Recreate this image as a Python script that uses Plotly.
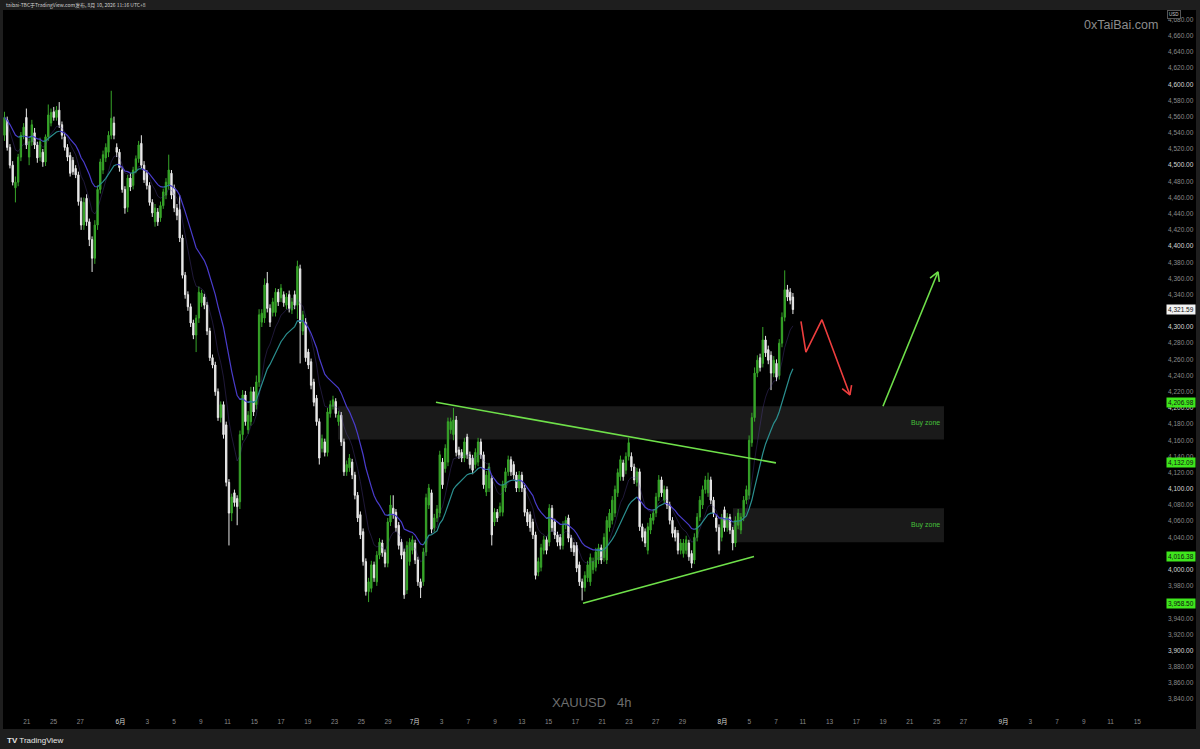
import numpy as np
import pandas as pd
import plotly.graph_objects as go

# ---------------- data ----------------
open_ = [
    4537,4556,4522,4500,4472,4479,4510,4537,4559,4510,
    4529,4540,4525,4510,4516,4504,4535,4552,4566,4559,
    4568,4550,4535,4522,4512,4506,4496,4488,4455,4426,
    4459,4430,4408,4385,4426,4470,4494,4509,4516,4537,
    4552,4522,4516,4494,4470,4448,4484,4475,4494,4508,
    4527,4500,4490,4475,4454,4430,4442,4435,4450,4463,
    4476,4490,4472,4447,4445,4410,4364,4340,4325,4305,
    4290,4311,
    4330,4337,4327,4295,4262,4253,4220,4188,4204,4179,
    4108,4070,4095,4088,4084,4167,4216,4173,4183,4220,
    4204,4232,4306,4311,4354,4323,4318,4318,4343,4336,
    4340,4327,4340,4321,4340,4327,4372,4295,4306,4269,
    4257,4232,4212,4183,4150,4158,4145,4193,4202,4208,
    4183,4191,4158,4121,4126,4133,4117,4092,4068,4047,
    4010,3973,3977,4006,3985,4018,4033,4021,4008,4059,
    4076,4071,4055,4034,
    4022,3975,4010,4024,4033,4012,3985,3985,4022,4080,
    4095,4052,4064,4070,4133,4125,4133,4173,4167,4185,
    4148,4145,4138,4164,4142,4138,4130,4133,4158,4142,
    4096,4101,4113,4059,4071,4071,4071,4101,4121,4136,
    4130,4117,4101,4117,4101,4071,4068,4059,4043,3997,
    4003,4024,4037,4034,4076,4059,4043,4040,4030,4055,
    4064,4039,4030,4030,4006,3985,3978,3990,3985,4000,
    4003,4012,4027,4015,
    4012,4052,4061,4070,4095,4115,4132,4123,4140,4140,
    4127,4108,4121,4053,4047,4024,4049,4061,4070,4090,
    4111,4086,4099,4080,4061,4049,4045,4024,4020,4024,
    4033,4020,4012,4040,4065,4080,4099,4095,4111,4086,
    4064,4052,4040,4074,4052,4065,4049,4033,4055,4049,
    4065,4086,4092,4157,4188,4243,4262,4255,4284,4272,
    4265,4243,4255,4240,4280,4312,4346,4343,4337,
]
high = [
    4566,4560,4526,4505,4486,4514,4541,4552,4570,4533,
    4556,4546,4529,4534,4520,4538,4575,4570,4572,4573,
    4578,4554,4540,4526,4516,4510,4500,4492,4460,4460,
    4464,4434,4412,4432,4475,4508,4518,4527,4542,4592,
    4560,4527,4520,4498,4474,4488,4490,4498,4512,4530,
    4537,4505,4494,4479,4458,4452,4447,4455,4471,4484,
    4513,4494,4476,4452,4463,4414,4368,4344,4329,4309,
    4315,4350,
    4346,4341,4331,4299,4266,4257,4224,4208,4208,4183,
    4112,4094,4099,4092,4172,4222,4221,4196,4226,4226,
    4240,4322,4322,4360,4368,4328,4336,4348,4347,4353,
    4344,4342,4345,4336,4345,4382,4377,4320,4311,4273,
    4261,4236,4216,4187,4167,4162,4200,4209,4215,4212,
    4196,4195,4162,4135,4143,4137,4121,4096,4072,4051,
    4014,3990,4011,4010,4023,4039,4037,4025,4064,4092,
    4092,4075,4059,4038,
    4026,4035,4039,4042,4037,4016,3989,4027,4094,4106,
    4099,4069,4080,4147,4138,4155,4188,4188,4200,4190,
    4152,4149,4163,4168,4146,4142,4150,4163,4162,4146,
    4122,4132,4117,4076,4075,4083,4110,4126,4141,4140,
    4134,4121,4122,4121,4105,4075,4072,4063,4047,4015,
    4032,4042,4041,4081,4080,4063,4047,4044,4060,4066,
    4068,4043,4034,4034,4010,3989,3998,4011,4020,4015,
    4027,4032,4031,4045,
    4066,4075,4091,4104,4125,4141,4136,4145,4163,4145,
    4131,4126,4125,4057,4051,4058,4069,4075,4095,4117,
    4115,4104,4103,4084,4065,4053,4049,4038,4038,4042,
    4037,4024,4045,4070,4091,4104,4116,4120,4115,4090,
    4068,4056,4069,4078,4070,4069,4053,4066,4075,4070,
    4091,4104,4166,4194,4250,4265,4267,4300,4289,4277,
    4270,4264,4260,4285,4318,4370,4352,4348,4342,
]
low = [
    4530,4518,4496,4475,4454,4474,4505,4532,4520,4500,
    4524,4520,4503,4505,4498,4499,4530,4548,4555,4555,
    4546,4532,4518,4505,4486,4488,4484,4450,4420,4420,
    4425,4400,4368,4378,4420,4465,4489,4504,4510,4532,
    4532,4510,4492,4466,4440,4442,4468,4470,4490,4503,
    4496,4478,4470,4450,4436,4424,4425,4430,4446,4458,
    4470,4458,4442,4432,4405,4360,4335,4320,4300,4285,
    4269,4305,
    4325,4322,4290,4258,4249,4215,4184,4182,4162,4103,
    4030,4060,4078,4055,4075,4160,4178,4168,4178,4190,
    4198,4226,4300,4305,4318,4300,4313,4313,4326,4331,
    4325,4322,4318,4316,4322,4310,4255,4290,4257,4248,
    4223,4202,4178,4130,4145,4140,4140,4188,4198,4188,
    4178,4153,4116,4116,4121,4112,4087,4059,4038,4005,
    3968,3960,3972,3985,3980,4013,4016,4003,4003,4054,
    4063,4047,4025,4013,
    3964,3970,4005,4019,4007,3980,3965,3980,4017,4075,
    4045,4047,4059,4065,4100,4120,4128,4168,4160,4140,
    4137,4133,4133,4137,4125,4118,4125,4128,4137,4100,
    4091,4096,4030,4054,4059,4066,4066,4096,4116,4116,
    4112,4096,4096,4096,4066,4054,4047,4038,3988,3992,
    3998,4019,4019,4029,4047,4038,4029,4025,4025,4050,
    4034,4022,4017,3997,3980,3962,3973,3985,3980,3995,
    3998,4007,4007,4010,
    4007,4047,4056,4065,4090,4110,4110,4118,4135,4122,
    4106,4103,4048,4035,4028,4019,4044,4056,4065,4085,
    4090,4081,4075,4056,4040,4035,4019,4019,4015,4019,
    4011,4002,4007,4035,4060,4075,4094,4090,4081,4065,
    4047,4019,4035,4047,4047,4044,4024,4028,4050,4044,
    4060,4081,4087,4152,4183,4238,4245,4250,4263,4254,
    4222,4238,4233,4235,4275,4307,4332,4328,4316,
]
close = [
    4559,4522,4500,4479,4479,4510,4537,4547,4525,4529,
    4550,4525,4509,4529,4504,4535,4562,4565,4559,4568,
    4550,4537,4522,4510,4490,4492,4488,4455,4426,4454,
    4430,4408,4385,4426,4470,4504,4513,4522,4537,4558,
    4537,4516,4497,4470,4447,4484,4473,4494,4508,4525,
    4500,4482,4475,4454,4441,4447,4430,4450,4467,4479,
    4494,4463,4447,4438,4410,4364,4340,4325,4305,4290,
    4311,4343,
    4342,4327,4295,4262,4253,4220,4188,4204,4167,4108,
    4070,4090,4083,4078,4167,4216,4183,4191,4220,4195,
    4232,4315,4317,4352,4323,4306,4331,4343,4331,4348,
    4330,4337,4323,4331,4327,4375,4305,4315,4262,4253,
    4228,4207,4183,4138,4162,4145,4195,4204,4210,4193,
    4191,4158,4121,4130,4138,4117,4092,4064,4043,4010,
    3973,3985,4006,3990,4018,4034,4021,4008,4059,4080,
    4068,4052,4030,4018,
    3969,4030,4034,4037,4012,3985,3978,4022,4089,4101,
    4050,4064,4075,4142,4105,4150,4183,4183,4185,4145,
    4142,4138,4158,4142,4130,4123,4145,4158,4142,4105,
    4117,4127,4043,4071,4064,4078,4105,4121,4136,4121,
    4117,4101,4117,4101,4071,4059,4052,4043,3993,4010,
    4027,4037,4024,4076,4052,4043,4034,4030,4055,4061,
    4039,4027,4022,4002,3985,3978,3993,4006,4015,4010,
    4022,4027,4012,4040,
    4061,4070,4086,4099,4120,4136,4115,4140,4157,4127,
    4111,4121,4053,4040,4033,4053,4064,4070,4090,4111,
    4095,4099,4080,4061,4045,4040,4024,4033,4033,4037,
    4016,4008,4040,4065,4086,4099,4111,4111,4086,4070,
    4052,4024,4064,4052,4065,4049,4033,4061,4070,4065,
    4086,4099,4160,4188,4243,4259,4250,4284,4268,4259,
    4243,4259,4238,4280,4312,4346,4337,4333,4321.59,
]

# time axis: trading days counted from 2026-06-01 (first and last bar)
first_bar_day, last_bar_day = -8.67, 50.26

tick_dates = ["2026-05-21", "2026-05-25", "2026-05-27", "2026-06-01", "2026-06-03",
              "2026-06-05", "2026-06-09", "2026-06-11", "2026-06-15", "2026-06-17",
              "2026-06-19", "2026-06-23", "2026-06-25", "2026-06-29", "2026-07-01",
              "2026-07-03", "2026-07-07", "2026-07-09", "2026-07-13", "2026-07-15",
              "2026-07-17", "2026-07-21", "2026-07-23", "2026-07-27", "2026-07-29",
              "2026-08-03", "2026-08-05", "2026-08-07", "2026-08-11", "2026-08-13",
              "2026-08-17", "2026-08-19", "2026-08-21", "2026-08-25", "2026-08-27",
              "2026-09-01", "2026-09-03", "2026-09-07", "2026-09-09", "2026-09-11",
              "2026-09-15"]
tick_text = ["21", "25", "27", "6月", "3", "5", "9", "11", "15", "17", "19", "23", "25", "29",
             "7月", "3", "7", "9", "13", "15", "17", "21", "23", "27", "29",
             "8月", "5", "7", "11", "13", "17", "19", "21", "25", "27",
             "9月", "3", "7", "9", "11", "15"]

# price-axis labels hidden behind the price tags
hidden_price_ticks = [4320, 4020, 3960]

# drawings (trading-day, price)
res_line_x = [23.58, 48.99]
res_line_y = [4206.98, 4132.09]
sup_line_x = [34.57, 47.35]
sup_line_y = [3958.50, 4016.38]
zone_upper = dict(x0=16.26, x1=61.55, y0=4161, y1=4202)
zone_lower = dict(x0=45.78, x1=61.55, y0=4034, y1=4076)
red_path_x = [50.86, 51.23, 52.43, 54.52]
red_path_y = [4307, 4269, 4309, 4216]
green_path_x = [56.99, 61.10]
green_path_y = [4202, 4368]
price_tags = [4321.59, 4206.98, 4132.09, 4016.38, 3958.50]
price_tag_bg = ["#f2f2f2", "#3fe61d", "#3fe61d", "#3fe61d", "#3fe61d"]

# ---------------- layout constants ----------------
W, H = 1200, 749
ML, MR, MT, MB = 3, 37, 10, 36
PW, PH = W - ML - MR, H - MT - MB
Y_RANGE = [3822.9, 4691.8]
X_RANGE = [-8.78, 77.92]

GREEN = "#37a529"
WHITE = "#e9e9e9"
LINE_GREEN = "#6fe04a"
RED = "#ee3e3e"


def paper_x(px):
    return (px - ML) / PW


def paper_y(py):
    return (H - MB - py) / PH


x = np.linspace(first_bar_day, last_bar_day, len(close))
ref_day = np.datetime64("2026-06-01")
tick_vals = [int(np.busday_count(ref_day, np.datetime64(d))) for d in tick_dates]

fig = go.Figure()

# moving averages (slow one coloured by slope)
ema = pd.Series(close, dtype=float).ewm(span=20, adjust=False).mean().to_numpy()
fast = pd.Series(close, dtype=float).ewm(span=9, adjust=False).mean().to_numpy()
rising = np.diff(ema, prepend=ema[0]) >= 0
rising[0] = rising[1]
nxt = np.append(rising[1:], rising[-1])
up_y = np.where(rising | nxt, ema, np.nan)
dn_y = np.where(~rising | ~nxt, ema, np.nan)

fig.add_trace(go.Scatter(x=x, y=fast, mode="lines", line=dict(color="rgba(90,70,160,0.35)", width=1),
                         hoverinfo="skip", showlegend=False))
fig.add_trace(go.Scatter(x=x, y=dn_y, mode="lines", line=dict(color="#4a3ccc", width=1.2),
                         hoverinfo="skip", showlegend=False, connectgaps=False))
fig.add_trace(go.Scatter(x=x, y=up_y, mode="lines", line=dict(color="#2b8f8f", width=1.2),
                         hoverinfo="skip", showlegend=False, connectgaps=False))

fig.add_trace(go.Candlestick(
    x=x, open=open_, high=high, low=low, close=close,
    increasing=dict(line=dict(color=GREEN, width=1), fillcolor=GREEN),
    decreasing=dict(line=dict(color=WHITE, width=1), fillcolor=WHITE),
    whiskerwidth=0, hoverinfo="skip", showlegend=False,
))

# trend lines
fig.add_trace(go.Scatter(x=res_line_x, y=res_line_y, mode="lines",
                         line=dict(color=LINE_GREEN, width=1.6), hoverinfo="skip", showlegend=False))
fig.add_trace(go.Scatter(x=sup_line_x, y=sup_line_y, mode="lines",
                         line=dict(color=LINE_GREEN, width=1.6), hoverinfo="skip", showlegend=False))


def arrow_head(xs, ys, length=10.0, ang_deg=30.0):
    sx = PW / (X_RANGE[1] - X_RANGE[0])
    sy = PH / (Y_RANGE[1] - Y_RANGE[0])
    tx, ty = xs[-1] * sx, ys[-1] * sy
    px_, py_ = xs[-2] * sx, ys[-2] * sy
    d = np.array([tx - px_, ty - py_])
    d = d / np.linalg.norm(d)
    pts = []
    for a in (np.radians(ang_deg), -np.radians(ang_deg)):
        r = np.array([d[0] * np.cos(a) - d[1] * np.sin(a), d[0] * np.sin(a) + d[1] * np.cos(a)])
        w = np.array([tx, ty]) - length * r
        pts.append((w[0] / sx, w[1] / sy))
    hx = [pts[0][0], xs[-1], pts[1][0]]
    hy = [pts[0][1], ys[-1], pts[1][1]]
    return hx, hy


for px_list, py_list, col in ((red_path_x, red_path_y, RED), (green_path_x, green_path_y, LINE_GREEN)):
    fig.add_trace(go.Scatter(x=px_list, y=py_list, mode="lines", line=dict(color=col, width=1.6),
                             hoverinfo="skip", showlegend=False))
    hx, hy = arrow_head(px_list, py_list)
    fig.add_trace(go.Scatter(x=hx, y=hy, mode="lines", line=dict(color=col, width=1.6),
                             hoverinfo="skip", showlegend=False))

shapes = [
    # black chart + axis area
    dict(type="rect", xref="paper", yref="paper", x0=paper_x(3), x1=paper_x(1196),
         y0=paper_y(729), y1=paper_y(10), fillcolor="#000000", line=dict(width=0), layer="below"),
]
for z in (zone_upper, zone_lower):
    shapes.append(dict(type="rect", xref="x", yref="y", x0=z["x0"], x1=z["x1"], y0=z["y0"], y1=z["y1"],
                       fillcolor="rgba(255,255,255,0.10)", line=dict(width=0), layer="below"))

annotations = []
for z in (zone_upper, zone_lower):
    annotations.append(dict(x=z["x1"] - 0.15, y=(z["y0"] + z["y1"]) / 2, xref="x", yref="y",
                            text="Buy zone", showarrow=False, xanchor="right", yanchor="middle",
                            font=dict(size=7, color="#46c03a", family="Liberation Sans, Arial")))

for p, bg in zip(price_tags, price_tag_bg):
    annotations.append(dict(x=paper_x(1165.5), y=p, xref="paper", yref="y", text=f"{p:,.2f}",
                            showarrow=False, xanchor="left", yanchor="middle", bgcolor=bg,
                            borderpad=1, font=dict(size=6.5, color="#111111",
                                                   family="Liberation Sans, Arial")))

annotations += [
    dict(x=paper_x(1167), y=paper_y(15), xref="paper", yref="paper", text="USD", showarrow=False,
         xanchor="left", yanchor="middle", bgcolor="#000000", bordercolor="#555555", borderwidth=1,
         borderpad=1, font=dict(size=4.5, color="#cccccc", family="Liberation Sans, Arial")),
    dict(x=paper_x(1121), y=paper_y(25), xref="paper", yref="paper", text="0xTaiBai.com",
         showarrow=False, xanchor="center", yanchor="middle",
         font=dict(size=12.5, color="#8c8c8c", family="Liberation Sans, Arial")),
    dict(x=paper_x(591), y=paper_y(702), xref="paper", yref="paper", text="XAUUSD   4h",
         showarrow=False, xanchor="center", yanchor="middle",
         font=dict(size=13, color="#6e6e6e", family="Liberation Sans, Arial")),
    dict(x=paper_x(4), y=paper_y(5), xref="paper", yref="paper",
         text="taibai-TBC于TradingView.com发布, 8月 10, 2026 11:16 UTC+8", showarrow=False,
         xanchor="left", yanchor="middle",
         font=dict(size=5, color="#d0d0d0", family="Noto Sans CJK SC, Liberation Sans")),
    dict(x=paper_x(5), y=paper_y(740), xref="paper", yref="paper",
         text="<b>TV</b> TradingView", showarrow=False, xanchor="left", yanchor="middle",
         font=dict(size=8, color="#e6e6e6", family="Liberation Sans, Arial")),
]

y_ticks = list(range(3840, 4700, 20))
y_text = []
for v in y_ticks:
    s = f"{v:,.2f}"
    if v in hidden_price_ticks:
        s = ""
    elif v % 100 == 0:
        s = f"<span style='color:#d6d6d6'>{s}</span>"
    y_text.append(s)

x_text = [f"<span style='color:#d6d6d6'>{t}</span>" if "月" in t else t for t in tick_text]

fig.update_layout(
    width=W, height=H,
    margin=dict(l=ML, r=MR, t=MT, b=MB, pad=0),
    paper_bgcolor="#1e1e1e",
    plot_bgcolor="#000000",
    showlegend=False,
    shapes=shapes,
    annotations=annotations,
    xaxis=dict(range=X_RANGE, showgrid=False, zeroline=False, showline=False,
               tickvals=tick_vals, ticktext=x_text, ticks="", ticklabelstandoff=3,
               tickfont=dict(size=6.5, color="#8a8a8a", family="Liberation Sans, Noto Sans CJK SC"),
               rangeslider=dict(visible=False), fixedrange=True, automargin=False),
    yaxis=dict(range=Y_RANGE, side="right", showgrid=False, zeroline=False, showline=False,
               tickvals=y_ticks, ticktext=y_text, ticks="", ticklabelstandoff=4,
               tickfont=dict(size=6.5, color="#8a8a8a", family="Liberation Sans, Arial"),
               fixedrange=True, automargin=False),
)

fig.write_html("out.html", config={"displayModeBar": False},
               post_script="document.body.style.margin='0px';document.body.style.overflow='hidden';")
